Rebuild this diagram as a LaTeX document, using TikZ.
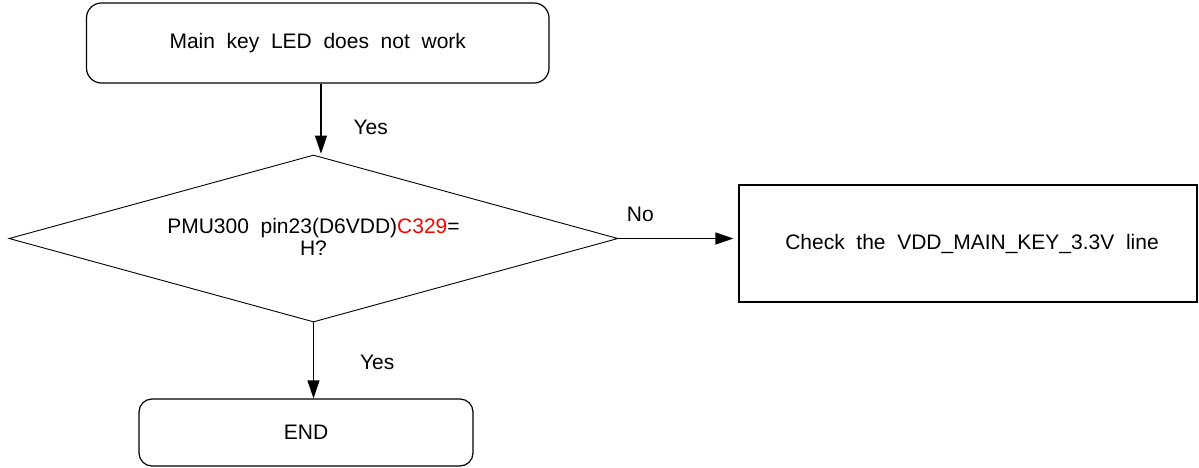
\documentclass[tikz,border=0pt]{standalone}
\usepackage{fontspec}
\setmainfont{Liberation Sans}
\usetikzlibrary{arrows.meta,shapes.geometric}
\begin{document}
\begin{tikzpicture}[x=1pt,y=-1pt,
  every node/.style={font=\fontsize{21}{22}\selectfont},
  roundbox/.style={draw,line width=1.2pt,rounded corners=15pt,inner sep=0pt},
  plainbox/.style={draw,line width=1.2pt,inner sep=0pt},
  decision/.style={draw,diamond,line width=0.9pt,inner sep=0pt},
  arr/.style={line width=1.2pt,-{Triangle[length=18pt,width=12pt]}},
  lbl/.style={inner sep=0pt}]
\useasboundingbox (0,0) rectangle (1199,467);
\node[roundbox,minimum width=462.5pt,minimum height=80pt] (top) at (317.75,43) {Main\ \ key\ \ LED\ \ does\ \ not\ \ work};
\node[decision,minimum width=609pt,minimum height=167pt] (dia) at (313.5,238.5) {};
\node[lbl,align=center,font=\fontsize{21}{22}\selectfont] (q) at (313.5,237) {PMU300\ \ pin23(D6VDD)\textcolor{red}{C329}=\\H?};
\node[plainbox,minimum width=458pt,minimum height=117pt] (chk) at (968,243.5) {};
\node[lbl] (chkt) at (972,243.5) {Check\ \ the\ \ VDD\_MAIN\_KEY\_3.3V\ \ line};
\node[roundbox,rounded corners=13pt,minimum width=334pt,minimum height=67pt] (end) at (306,432.5) {END};
\draw[arr] ([xshift=3.25pt]top.south) -- ++(0,70) node[lbl,pos=0.62,right=32pt] (y1) {Yes};
\draw[arr] (dia.east) -- ([xshift=-5pt]chk.west |- dia.east) node[lbl,pos=0.19,above=16pt] (no) {No};
\draw[arr] (dia.south) -- (dia.south |- end.north) node[lbl,pos=0.53,right=46pt] (y2) {Yes};
\end{tikzpicture}
\end{document}
